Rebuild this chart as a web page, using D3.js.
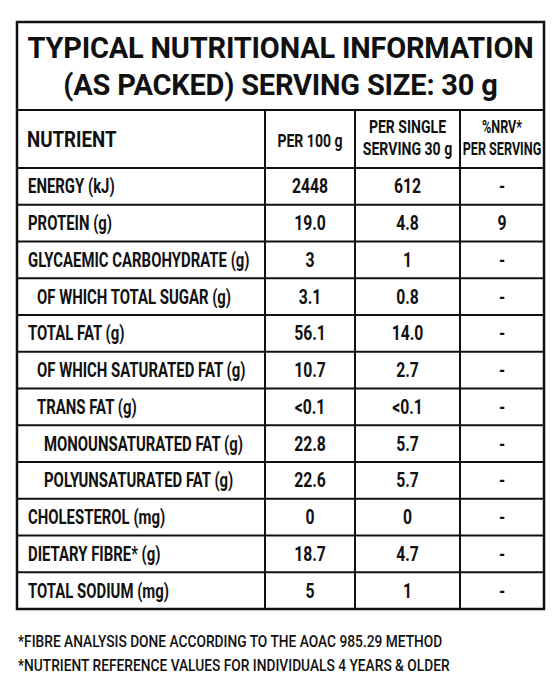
<!DOCTYPE html>
<html><head><meta charset="utf-8">
<script src="https://cdn.jsdelivr.net/npm/d3@7"></script>
<style>body{margin:0;background:#fff}</style></head>
<body><svg id="c" width="560" height="700"></svg>
<script>
const nutrients=["ENERGY (kJ)","PROTEIN (g)","GLYCAEMIC CARBOHYDRATE (g)","OF WHICH TOTAL SUGAR (g)","TOTAL FAT (g)","OF WHICH SATURATED FAT (g)","TRANS FAT (g)","MONOUNSATURATED FAT (g)","POLYUNSATURATED FAT (g)","CHOLESTEROL (mg)","DIETARY FIBRE* (g)","TOTAL SODIUM (mg)"];
const indent=[0,0,0,1,0,1,1,2,2,0,0,0];
const per100=["2448","19.0","3","3.1","56.1","10.7","<0.1","22.8","22.6","0","18.7","5"];
const perServing=["612","4.8","1","0.8","14.0","2.7","<0.1","5.7","5.7","0","4.7","1"];
const nrv=["-","9","-","-","-","-","-","-","-","-","-","-"];
const titleLines=["TYPICAL NUTRITIONAL INFORMATION","(AS PACKED) SERVING SIZE: 30 g"];
const footnotes=["*FIBRE ANALYSIS DONE ACCORDING TO THE AOAC 985.29 METHOD","*NUTRIENT REFERENCE VALUES FOR INDIVIDUALS 4 YEARS & OLDER"];

const svg=d3.select("#c");
const L=17,R=544,T=22,titleB=110,headB=168,B=609;
const F="Roboto, 'Open Sans', sans-serif";
const y=d3.scaleBand().domain(d3.range(nutrients.length)).range([headB,B]);
const cols=[L,265,355,460,R];
const g=svg.append("g").attr("stroke","#111").attr("fill","none");
g.append("rect").attr("x",L).attr("y",T).attr("width",R-L).attr("height",B-T).attr("stroke-width",2.5);
g.append("line").attr("x1",L).attr("x2",R).attr("y1",titleB).attr("y2",titleB).attr("stroke-width",2);
g.append("line").attr("x1",L).attr("x2",R).attr("y1",headB).attr("y2",headB).attr("stroke-width",2);
g.selectAll(".h").data(d3.range(1,nutrients.length)).join("line").attr("x1",L).attr("x2",R)
 .attr("y1",d=>y(d)).attr("y2",d=>y(d)).attr("stroke-width",1.8);
g.selectAll(".v").data(cols.slice(1,4)).join("line").attr("x1",d=>d).attr("x2",d=>d)
 .attr("y1",titleB).attr("y2",B).attr("stroke-width",2);

const t=svg.append("g").attr("fill","#111").attr("font-family",F).attr("font-weight","bold");
t.selectAll(".tt").data(titleLines).join("text").attr("x",(L+R)/2).attr("y",(d,i)=>58+i*37)
 .attr("text-anchor","middle").attr("font-size",29).attr("letter-spacing",-0.2).text(d=>d);
function cond(sel,sx){return sel.attr("transform",function(){const x=+this.getAttribute("x");return `translate(${x*(1-sx)},0) scale(${sx},1)`;});}
cond(t.append("text").attr("x",27).attr("y",147).attr("font-size",22).text("NUTRIENT"),0.85);
const hdr=[[ (265+355)/2,["PER 100 g"]],[(355+460)/2,["PER SINGLE","SERVING 30 g"]],[(460+544)/2,["%NRV*","PER SERVING"]]];
hdr.forEach(([cx,lines],k)=>{
  lines.forEach((s,i)=>{
    const yy=lines.length==1?147:133+i*22;
    cond(t.append("text").attr("x",cx).attr("y",yy).attr("text-anchor","middle").attr("font-size",k==2?18:19).text(s),k==2?0.7:0.74);
  });
});
const cy=i=>y(i)+y.bandwidth()/2+7;
t.selectAll(".n").data(nutrients).join("text").attr("x",(d,i)=>[28,37,44][indent[i]]).attr("y",(d,i)=>cy(i))
 .attr("font-size",21).text(d=>d).each(function(){cond(d3.select(this),0.71);});
[per100,perServing,nrv].forEach((arr,k)=>{
  t.selectAll(".c"+k).data(arr).join("text").attr("x",(cols[k+1]+cols[k+2])/2).attr("y",(d,i)=>cy(i))
   .attr("text-anchor","middle").attr("font-size",21).text(d=>d).each(function(){cond(d3.select(this),0.75);});
});
svg.append("g").attr("fill","#111").attr("font-family",F).attr("font-weight",500)
 .selectAll("text").data(footnotes).join("text").attr("x",18).attr("y",(d,i)=>647+i*24)
 .attr("font-size",16).text(d=>d).each(function(){cond(d3.select(this),0.86);});
</script></body></html>
